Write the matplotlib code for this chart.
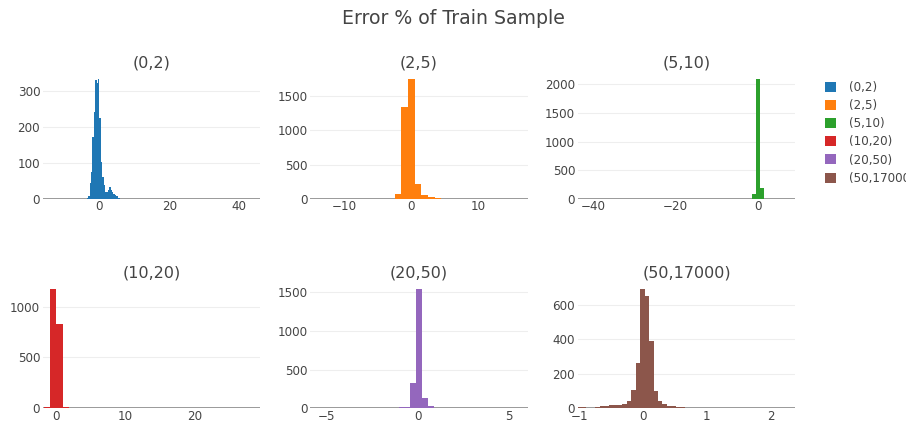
import numpy as np
import matplotlib.pyplot as plt

plt.rcParams['font.family'] = ['DejaVu Sans']

# error buckets (% error) and histogram counts per bucket
groups = ['(0,2)', '(2,5)', '(5,10)', '(10,20)', '(20,50)', '(50,17000)']
colors = ['#1f77b4', '#ff7f0e', '#2ca02c', '#d62728', '#9467bd', '#8c564b']

# left bin edge of the first bin, bin width, counts
start_0_2, width_0_2 = -3.6, 0.4
counts_0_2 = [2, 8, 45, 76, 172, 242, 330, 322, 333, 225, 104, 60, 40, 20,
              20, 25, 34, 26, 20, 14, 10, 7, 4, 2, 1]

start_2_5, width_2_5 = -3.5, 1.0
counts_2_5 = [5, 75, 1345, 1745, 218, 63, 25, 8, 5, 4, 3]

start_5_10, width_5_10 = -2.5, 1.0
counts_5_10 = [4, 95, 2090, 195, 6, 2]

start_10_20, width_10_20 = -1.7, 0.9
counts_10_20 = [17, 1174, 834, 12, 5, 2]

start_20_50, width_20_50 = -1.36, 0.32
counts_20_50 = [3, 18, 20, 325, 1540, 138, 25, 6, 2]

start_50_17000, width_50_17000 = -1.027, 0.07
counts_50_17000 = [10, 5, 4, 4, 5, 12, 13, 17, 18, 18, 27, 44, 107, 262, 693,
                   654, 388, 100, 41, 25, 13, 12, 6, 5, 2, 2, 1, 1, 1]

hists = [
    (start_0_2, width_0_2, counts_0_2),
    (start_2_5, width_2_5, counts_2_5),
    (start_5_10, width_5_10, counts_5_10),
    (start_10_20, width_10_20, counts_10_20),
    (start_20_50, width_20_50, counts_20_50),
    (start_50_17000, width_50_17000, counts_50_17000),
]

xticks = [[0, 20, 40], [-10, 0, 10], [-40, -20, 0],
          [0, 10, 20], [-5, 0, 5], [-1, 0, 1, 2]]
yticks = [[0, 100, 200, 300], [0, 500, 1000, 1500], [0, 500, 1000, 1500, 2000],
          [0, 500, 1000], [0, 500, 1000, 1500], [0, 200, 400, 600]]
xlims = [(-16.1, 45.9), (-15.1, 17.4), (-43.8, 9.1),
         (-1.83, 29.5), (-5.9, 6.04), (-1.02, 2.38)]

W, H = 906, 423
fig = plt.figure(figsize=(W / 100, H / 100), dpi=100)

# subplot boxes in pixels: (left, right), (top, bottom)
cols = [(43, 260), (310.4, 527.6), (578, 795)]
rows = [(73, 199), (283, 408.3)]

txt = '#444444'
bars = []
for i, (start, width, counts) in enumerate(hists):
    (x0, x1), (y0, y1) = cols[i % 3], rows[i // 3]
    ax = fig.add_axes([x0 / W, 1 - y1 / H, (x1 - x0) / W, (y1 - y0) / H])
    counts = np.array(counts)
    lefts = start + width * np.arange(len(counts))
    b = ax.bar(lefts, counts, width=width, align='edge', color=colors[i],
               linewidth=0, zorder=3)
    bars.append(b)
    ax.set_xlim(*xlims[i])
    ax.set_ylim(0, counts.max() * 1.05)
    ax.set_xticks(xticks[i])
    ax.set_yticks(yticks[i])
    for t in yticks[i][1:]:
        ax.axhline(t, color='#eeeeee', lw=0.8, zorder=1)
    ax.axhline(0, color='#9a9a9a', lw=1.4, zorder=2)
    for s in ax.spines.values():
        s.set_visible(False)
    ax.tick_params(axis='y', length=0, labelsize=8.6, labelcolor=txt, pad=2)
    ax.tick_params(axis='x', length=0, labelsize=8.6, labelcolor=txt, pad=1)
    ax.set_title(groups[i], fontsize=11.5, color=txt, pad=4)

fig.text(0.5, 1 - 19 / H, 'Error % of Train Sample', ha='center', va='center',
         fontsize=13.6, color=txt)

fig.legend([b[0] for b in bars], groups, loc='upper left',
           bbox_to_anchor=(825 / W, 1 - 81 / H), frameon=False,
           fontsize=8.6, labelcolor=txt, handlelength=0.9, handleheight=0.9,
           handletextpad=1.1, labelspacing=0.43, borderpad=0, borderaxespad=0)

fig.savefig('out.png', dpi=100, facecolor='white')
